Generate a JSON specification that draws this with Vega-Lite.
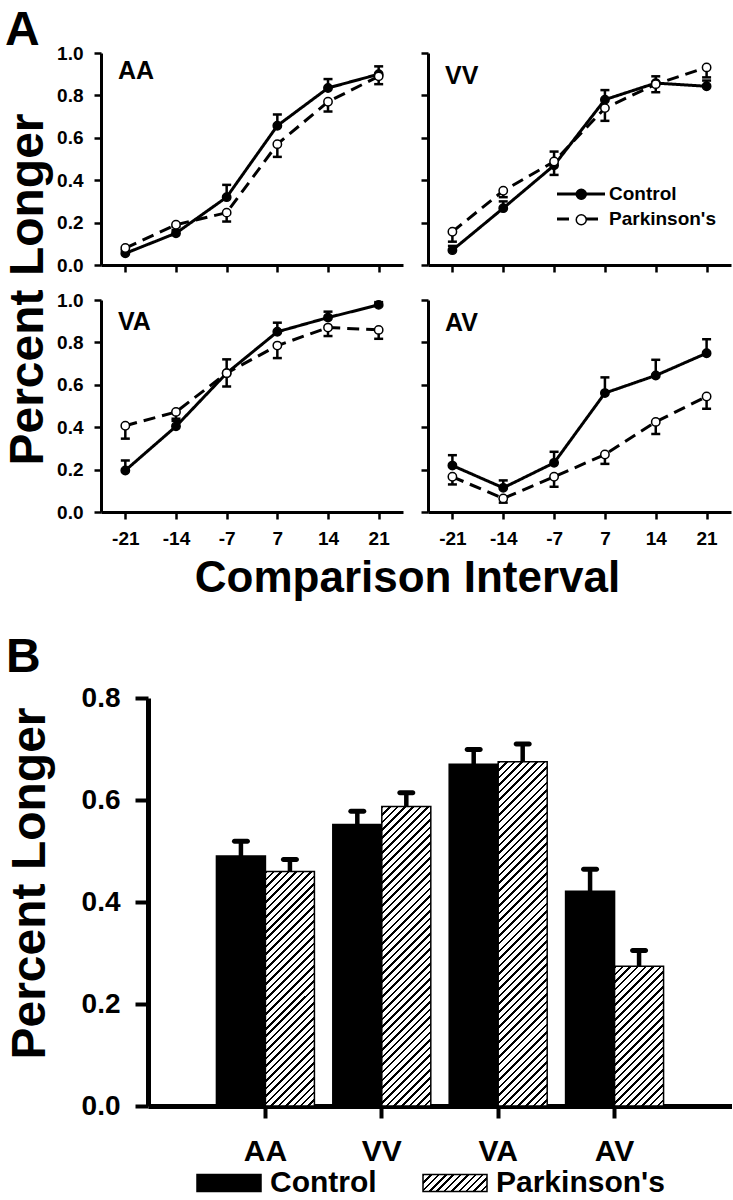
{
  "$schema": "https://vega.github.io/schema/vega-lite/v6.json",
  "padding": {"left": 4, "top": 7, "right": 0, "bottom": 0},
  "background": "white",
  "config": {
    "font": "Liberation Sans",
    "view": {"stroke": null},
    "axis": {"labelFont": "Liberation Sans", "labelFontWeight": "bold", "labelColor": "black", "titleFont": "Liberation Sans", "titleFontWeight": "bold", "titleColor": "black", "domainColor": "black", "tickColor": "black", "grid": false, "labelOverlap": false},
    "title": {"font": "Liberation Sans", "fontWeight": "bold", "color": "black"},
    "legend": {"labelFont": "Liberation Sans", "labelFontWeight": "bold", "labelColor": "black", "labelLimit": 400}
  },
  "datasets": {
    "curves": [
      {"panel": "AA", "group": "Control", "interval": -21, "mean": 0.055, "errEnd": 0.07},
      {"panel": "AA", "group": "Control", "interval": -14, "mean": 0.15, "errEnd": 0.165},
      {"panel": "AA", "group": "Control", "interval": -7, "mean": 0.32, "errEnd": 0.378},
      {"panel": "AA", "group": "Control", "interval": 7, "mean": 0.657, "errEnd": 0.71},
      {"panel": "AA", "group": "Control", "interval": 14, "mean": 0.835, "errEnd": 0.877},
      {"panel": "AA", "group": "Control", "interval": 21, "mean": 0.9, "errEnd": 0.937},
      {"panel": "AA", "group": "Parkinson's", "interval": -21, "mean": 0.08, "errEnd": 0.07},
      {"panel": "AA", "group": "Parkinson's", "interval": -14, "mean": 0.19, "errEnd": 0.18},
      {"panel": "AA", "group": "Parkinson's", "interval": -7, "mean": 0.247, "errEnd": 0.205},
      {"panel": "AA", "group": "Parkinson's", "interval": 7, "mean": 0.57, "errEnd": 0.51},
      {"panel": "AA", "group": "Parkinson's", "interval": 14, "mean": 0.77, "errEnd": 0.724},
      {"panel": "AA", "group": "Parkinson's", "interval": 21, "mean": 0.89, "errEnd": 0.853},
      {"panel": "VV", "group": "Control", "interval": -21, "mean": 0.07, "errEnd": 0.09},
      {"panel": "VV", "group": "Control", "interval": -14, "mean": 0.268, "errEnd": 0.3},
      {"panel": "VV", "group": "Control", "interval": -7, "mean": 0.47, "errEnd": 0.535},
      {"panel": "VV", "group": "Control", "interval": 7, "mean": 0.78, "errEnd": 0.825},
      {"panel": "VV", "group": "Control", "interval": 14, "mean": 0.858, "errEnd": 0.89},
      {"panel": "VV", "group": "Control", "interval": 21, "mean": 0.843, "errEnd": 0.87},
      {"panel": "VV", "group": "Parkinson's", "interval": -21, "mean": 0.157, "errEnd": 0.11},
      {"panel": "VV", "group": "Parkinson's", "interval": -14, "mean": 0.35, "errEnd": 0.32},
      {"panel": "VV", "group": "Parkinson's", "interval": -7, "mean": 0.488, "errEnd": 0.425},
      {"panel": "VV", "group": "Parkinson's", "interval": 7, "mean": 0.74, "errEnd": 0.68},
      {"panel": "VV", "group": "Parkinson's", "interval": 14, "mean": 0.853, "errEnd": 0.815},
      {"panel": "VV", "group": "Parkinson's", "interval": 21, "mean": 0.932, "errEnd": 0.885},
      {"panel": "VA", "group": "Control", "interval": -21, "mean": 0.196, "errEnd": 0.243},
      {"panel": "VA", "group": "Control", "interval": -14, "mean": 0.404, "errEnd": 0.43},
      {"panel": "VA", "group": "Control", "interval": -7, "mean": 0.655, "errEnd": 0.72},
      {"panel": "VA", "group": "Control", "interval": 7, "mean": 0.85, "errEnd": 0.893},
      {"panel": "VA", "group": "Control", "interval": 14, "mean": 0.917, "errEnd": 0.945},
      {"panel": "VA", "group": "Control", "interval": 21, "mean": 0.977, "errEnd": 0.99},
      {"panel": "VA", "group": "Parkinson's", "interval": -21, "mean": 0.407, "errEnd": 0.346},
      {"panel": "VA", "group": "Parkinson's", "interval": -14, "mean": 0.472, "errEnd": 0.44},
      {"panel": "VA", "group": "Parkinson's", "interval": -7, "mean": 0.655, "errEnd": 0.592},
      {"panel": "VA", "group": "Parkinson's", "interval": 7, "mean": 0.785, "errEnd": 0.726},
      {"panel": "VA", "group": "Parkinson's", "interval": 14, "mean": 0.87, "errEnd": 0.83},
      {"panel": "VA", "group": "Parkinson's", "interval": 21, "mean": 0.859, "errEnd": 0.817},
      {"panel": "AV", "group": "Control", "interval": -21, "mean": 0.219, "errEnd": 0.268},
      {"panel": "AV", "group": "Control", "interval": -14, "mean": 0.114, "errEnd": 0.149},
      {"panel": "AV", "group": "Control", "interval": -7, "mean": 0.232, "errEnd": 0.284},
      {"panel": "AV", "group": "Control", "interval": 7, "mean": 0.561, "errEnd": 0.635},
      {"panel": "AV", "group": "Control", "interval": 14, "mean": 0.644, "errEnd": 0.718},
      {"panel": "AV", "group": "Control", "interval": 21, "mean": 0.749, "errEnd": 0.815},
      {"panel": "AV", "group": "Parkinson's", "interval": -21, "mean": 0.166, "errEnd": 0.13},
      {"panel": "AV", "group": "Parkinson's", "interval": -14, "mean": 0.064, "errEnd": 0.044},
      {"panel": "AV", "group": "Parkinson's", "interval": -7, "mean": 0.166, "errEnd": 0.119},
      {"panel": "AV", "group": "Parkinson's", "interval": 7, "mean": 0.271, "errEnd": 0.227},
      {"panel": "AV", "group": "Parkinson's", "interval": 14, "mean": 0.425, "errEnd": 0.368},
      {"panel": "AV", "group": "Parkinson's", "interval": 21, "mean": 0.545, "errEnd": 0.487}
    ],
    "bars": [
      {"cond": "AA", "group": "Control", "mean": 0.49, "errEnd": 0.519},
      {"cond": "AA", "group": "Parkinson's", "mean": 0.46, "errEnd": 0.4835},
      {"cond": "VV", "group": "Control", "mean": 0.552, "errEnd": 0.578},
      {"cond": "VV", "group": "Parkinson's", "mean": 0.5875, "errEnd": 0.614},
      {"cond": "VA", "group": "Control", "mean": 0.67, "errEnd": 0.699},
      {"cond": "VA", "group": "Parkinson's", "mean": 0.675, "errEnd": 0.71},
      {"cond": "AV", "group": "Control", "mean": 0.421, "errEnd": 0.464},
      {"cond": "AV", "group": "Parkinson's", "mean": 0.274, "errEnd": 0.305}
    ]
  },
  "resolve": {"scale": {"fill": "independent", "strokeDash": "independent"}},
  "spacing": 34,
  "vconcat": [
    {
      "title": {"text": "A", "anchor": "start", "frame": "bounds", "fontSize": 48, "offset": -11},
      "columns": 2,
      "bounds": "flush",
      "spacing": {"row": 35, "column": 25},
      "resolve": {"scale": {"fill": "independent", "strokeDash": "independent"}},
      "concat": [
        {
          "width": 302, "height": 212,
          "data": {"name": "curves"},
          "transform": [{"filter": "datum.panel === 'AA'"}],
          "title": {"text": "AA", "anchor": "start", "frame": "group", "fontSize": 25, "dx": 17, "offset": -40.3},
          "encoding": {
            "x": {"field": "interval", "type": "ordinal", "scale": {"type": "point", "padding": 0.48}, "axis": {"labels": false, "title": null, "tickSize": 7, "tickWidth": 2.5, "domainWidth": 3}},
            "y": {"field": "mean", "type": "quantitative", "scale": {"domain": [0, 1]}, "axis": {"values": [0, 0.2, 0.4, 0.6, 0.8, 1], "format": ".1f", "labelFontSize": 19, "tickSize": 7, "tickWidth": 2.5, "domainWidth": 3, "labelPadding": 11, "title": "Percent Longer", "titleFontSize": 48, "titlePadding": 3.6, "titleY": 236}}
          },
          "layer": [
            {"mark": {"type": "rule", "color": "black", "strokeWidth": 2.5, "opacity": 1}, "encoding": {"y2": {"field": "errEnd"}}},
            {"mark": {"type": "tick", "color": "black", "thickness": 2.5, "size": 9, "opacity": 1}, "encoding": {"y": {"field": "errEnd", "type": "quantitative"}}},
            {"mark": {"type": "line", "color": "black", "strokeWidth": 3}, "encoding": {"strokeDash": {"field": "group", "type": "nominal", "scale": {"range": [[1, 0], [12, 7]]}, "legend": null}}},
            {"mark": {"type": "point", "filled": true, "opacity": 1, "stroke": "black", "strokeWidth": 1.5, "size": 70}, "encoding": {"fill": {"field": "group", "type": "nominal", "scale": {"domain": ["Control", "Parkinson's"], "range": ["black", "white"]}, "legend": null}}}
          ]
        },
        {
          "width": 303, "height": 212,
          "data": {"name": "curves"},
          "transform": [{"filter": "datum.panel === 'VV'"}],
          "title": {"text": "VV", "anchor": "start", "frame": "group", "fontSize": 25, "dx": 17, "offset": -37.5},
          "encoding": {
            "x": {"field": "interval", "type": "ordinal", "scale": {"type": "point", "padding": 0.48}, "axis": {"labels": false, "title": null, "tickSize": 7, "tickWidth": 2.5, "domainWidth": 3}},
            "y": {"field": "mean", "type": "quantitative", "scale": {"domain": [0, 1]}, "axis": {"values": [0, 0.2, 0.4, 0.6, 0.8, 1], "labels": false, "tickSize": 7, "tickWidth": 2.5, "domainWidth": 3, "title": null}}
          },
          "layer": [
            {"mark": {"type": "rule", "color": "black", "strokeWidth": 2.5, "opacity": 1}, "encoding": {"y2": {"field": "errEnd"}}},
            {"mark": {"type": "tick", "color": "black", "thickness": 2.5, "size": 9, "opacity": 1}, "encoding": {"y": {"field": "errEnd", "type": "quantitative"}}},
            {"mark": {"type": "line", "color": "black", "strokeWidth": 3}, "encoding": {"strokeDash": {"field": "group", "type": "nominal", "scale": {"range": [[1, 0], [12, 7]]}, "legend": {"orient": "none", "legendX": 141.5, "legendY": 129.5, "title": null, "symbolType": "M-2.4,0H-0.5M0.5,0H2.4", "symbolSize": 400, "symbolStrokeWidth": 3, "symbolStrokeColor": "black", "symbolFillColor": "transparent", "labelFontSize": 19, "labelOffset": 16.5, "rowPadding": 3}}}},
            {"mark": {"type": "point", "filled": true, "opacity": 1, "stroke": "black", "strokeWidth": 1.5, "size": 70}, "encoding": {"fill": {"field": "group", "type": "nominal", "scale": {"domain": ["Control", "Parkinson's"], "range": ["black", "white"]}, "legend": {"orient": "none", "legendX": 142.25, "legendY": 130.25, "title": null, "symbolType": "M0.5,0A0.5,0.5 0 1,1 -0.5,0A0.5,0.5 0 1,1 0.5,0Z", "symbolSize": 400, "symbolStrokeColor": "black", "symbolStrokeWidth": 1.5, "symbolOpacity": 1, "labelFontSize": 19, "labelOffset": 17.25, "labelOpacity": 0, "rowPadding": 4.5}}}}
          ]
        },
        {
          "width": 302, "height": 212,
          "data": {"name": "curves"},
          "transform": [{"filter": "datum.panel === 'VA'"}],
          "title": {"text": "VA", "anchor": "start", "frame": "group", "fontSize": 25, "dx": 17, "offset": -44.3},
          "encoding": {
            "x": {"field": "interval", "type": "ordinal", "scale": {"type": "point", "padding": 0.48}, "axis": {"labelFontSize": 19, "labelAngle": 0, "labelPadding": 10, "tickSize": 7, "tickWidth": 2.5, "domainWidth": 3, "title": "Comparison Interval", "titleFontSize": 44, "titleX": 306, "titlePadding": 8}},
            "y": {"field": "mean", "type": "quantitative", "scale": {"domain": [0, 1]}, "axis": {"values": [0, 0.2, 0.4, 0.6, 0.8, 1], "format": ".1f", "labelFontSize": 19, "tickSize": 7, "tickWidth": 2.5, "domainWidth": 3, "labelPadding": 11, "title": null}}
          },
          "layer": [
            {"mark": {"type": "rule", "color": "black", "strokeWidth": 2.5, "opacity": 1}, "encoding": {"y2": {"field": "errEnd"}}},
            {"mark": {"type": "tick", "color": "black", "thickness": 2.5, "size": 9, "opacity": 1}, "encoding": {"y": {"field": "errEnd", "type": "quantitative"}}},
            {"mark": {"type": "line", "color": "black", "strokeWidth": 3}, "encoding": {"strokeDash": {"field": "group", "type": "nominal", "scale": {"range": [[1, 0], [12, 7]]}, "legend": null}}},
            {"mark": {"type": "point", "filled": true, "opacity": 1, "stroke": "black", "strokeWidth": 1.5, "size": 70}, "encoding": {"fill": {"field": "group", "type": "nominal", "scale": {"domain": ["Control", "Parkinson's"], "range": ["black", "white"]}, "legend": null}}}
          ]
        },
        {
          "width": 303, "height": 212,
          "data": {"name": "curves"},
          "transform": [{"filter": "datum.panel === 'AV'"}],
          "title": {"text": "AV", "anchor": "start", "frame": "group", "fontSize": 25, "dx": 17, "offset": -37.5},
          "encoding": {
            "x": {"field": "interval", "type": "ordinal", "scale": {"type": "point", "padding": 0.48}, "axis": {"labelFontSize": 19, "labelAngle": 0, "labelPadding": 10, "tickSize": 7, "tickWidth": 2.5, "domainWidth": 3, "title": null}},
            "y": {"field": "mean", "type": "quantitative", "scale": {"domain": [0, 1]}, "axis": {"values": [0, 0.2, 0.4, 0.6, 0.8, 1], "labels": false, "tickSize": 7, "tickWidth": 2.5, "domainWidth": 3, "title": null}}
          },
          "layer": [
            {"mark": {"type": "rule", "color": "black", "strokeWidth": 2.5, "opacity": 1}, "encoding": {"y2": {"field": "errEnd"}}},
            {"mark": {"type": "tick", "color": "black", "thickness": 2.5, "size": 9, "opacity": 1}, "encoding": {"y": {"field": "errEnd", "type": "quantitative"}}},
            {"mark": {"type": "line", "color": "black", "strokeWidth": 3}, "encoding": {"strokeDash": {"field": "group", "type": "nominal", "scale": {"range": [[1, 0], [12, 7]]}, "legend": null}}},
            {"mark": {"type": "point", "filled": true, "opacity": 1, "stroke": "black", "strokeWidth": 1.5, "size": 70}, "encoding": {"fill": {"field": "group", "type": "nominal", "scale": {"domain": ["Control", "Parkinson's"], "range": ["black", "white"]}, "legend": null}}}
          ]
        }
      ]
    },
    {
      "width": 631, "height": 408,
      "data": {"name": "bars"},
      "title": {"text": "B", "anchor": "start", "frame": "bounds", "fontSize": 48, "offset": 2},
      "encoding": {
        "x": {"field": "cond", "type": "nominal", "sort": ["AA", "VV", "VA", "AV"], "scale": {"range": [47, 631], "paddingInner": 0.158, "paddingOuter": 0.588}, "axis": {"title": null, "labelAngle": 0, "labelFontSize": 30, "tickSize": 12, "tickWidth": 4, "domainWidth": 5, "labelPadding": 18}},
        "xOffset": {"field": "group", "type": "nominal", "sort": ["Control", "Parkinson's"]},
        "y": {"field": "mean", "type": "quantitative", "scale": {"domain": [0, 0.8]}, "axis": {"values": [0, 0.2, 0.4, 0.6, 0.8], "format": ".1f", "offset": -47, "labelFontSize": 28, "tickSize": 13, "tickWidth": 4, "domainWidth": 5, "labelPadding": 15, "title": "Percent Longer", "titleFontSize": 48, "titlePadding": 27, "titleY": 185}}
      },
      "layer": [
        {"mark": {"type": "bar", "stroke": "black", "strokeWidth": 1.5},
         "encoding": {
           "fill": {"field": "group", "type": "nominal",
             "scale": {"domain": ["Control", "Parkinson's"], "range": ["black", {"expr": "{gradient: 'linear', x1: 0, y1: 0, x2: 1.1822, y2: 0.314, stops: [{offset: 0, color: '#000'}, {offset: 0.0303, color: '#000'}, {offset: 0.0303, color: '#fff'}, {offset: 0.0909, color: '#fff'}, {offset: 0.0909, color: '#000'}, {offset: 0.1212, color: '#000'}, {offset: 0.1212, color: '#fff'}, {offset: 0.1818, color: '#fff'}, {offset: 0.1818, color: '#000'}, {offset: 0.2121, color: '#000'}, {offset: 0.2121, color: '#fff'}, {offset: 0.2727, color: '#fff'}, {offset: 0.2727, color: '#000'}, {offset: 0.303, color: '#000'}, {offset: 0.303, color: '#fff'}, {offset: 0.3636, color: '#fff'}, {offset: 0.3636, color: '#000'}, {offset: 0.3939, color: '#000'}, {offset: 0.3939, color: '#fff'}, {offset: 0.4545, color: '#fff'}, {offset: 0.4545, color: '#000'}, {offset: 0.4848, color: '#000'}, {offset: 0.4848, color: '#fff'}, {offset: 0.5455, color: '#fff'}, {offset: 0.5455, color: '#000'}, {offset: 0.5758, color: '#000'}, {offset: 0.5758, color: '#fff'}, {offset: 0.6364, color: '#fff'}, {offset: 0.6364, color: '#000'}, {offset: 0.6667, color: '#000'}, {offset: 0.6667, color: '#fff'}, {offset: 0.7273, color: '#fff'}, {offset: 0.7273, color: '#000'}, {offset: 0.7576, color: '#000'}, {offset: 0.7576, color: '#fff'}, {offset: 0.8182, color: '#fff'}, {offset: 0.8182, color: '#000'}, {offset: 0.8485, color: '#000'}, {offset: 0.8485, color: '#fff'}, {offset: 0.9091, color: '#fff'}, {offset: 0.9091, color: '#000'}, {offset: 0.9394, color: '#000'}, {offset: 0.9394, color: '#fff'}, {offset: 1, color: '#fff'}]}"}]},
             "legend": {"orient": "none", "direction": "horizontal", "legendX": 113, "legendY": 470, "title": null, "symbolType": "M-3.2,-0.85H3.2V0.85H-3.2Z", "symbolSize": 400, "symbolStrokeColor": "black", "symbolStrokeWidth": 1.5, "symbolOpacity": 1, "labelFontSize": 30, "labelOffset": 26, "columnPadding": 43},
             "condition": [
               {"test": "datum.group !== 'Control' && datum.cond === 'AA'", "value": {"gradient": "linear", "x1": 0, "y1": 0, "x2": 0.2419, "y2": 1.1583, "stops": [
                 {"offset": 0, "color": "#000"}, {"offset": 0.0088, "color": "#000"}, {"offset": 0.0088, "color": "#fff"}, {"offset": 0.0263, "color": "#fff"},
                 {"offset": 0.0263, "color": "#000"}, {"offset": 0.0351, "color": "#000"}, {"offset": 0.0351, "color": "#fff"}, {"offset": 0.0526, "color": "#fff"},
                 {"offset": 0.0526, "color": "#000"}, {"offset": 0.0614, "color": "#000"}, {"offset": 0.0614, "color": "#fff"}, {"offset": 0.0789, "color": "#fff"},
                 {"offset": 0.0789, "color": "#000"}, {"offset": 0.0877, "color": "#000"}, {"offset": 0.0877, "color": "#fff"}, {"offset": 0.1053, "color": "#fff"},
                 {"offset": 0.1053, "color": "#000"}, {"offset": 0.114, "color": "#000"}, {"offset": 0.114, "color": "#fff"}, {"offset": 0.1316, "color": "#fff"},
                 {"offset": 0.1316, "color": "#000"}, {"offset": 0.1404, "color": "#000"}, {"offset": 0.1404, "color": "#fff"}, {"offset": 0.1579, "color": "#fff"},
                 {"offset": 0.1579, "color": "#000"}, {"offset": 0.1667, "color": "#000"}, {"offset": 0.1667, "color": "#fff"}, {"offset": 0.1842, "color": "#fff"},
                 {"offset": 0.1842, "color": "#000"}, {"offset": 0.193, "color": "#000"}, {"offset": 0.193, "color": "#fff"}, {"offset": 0.2105, "color": "#fff"},
                 {"offset": 0.2105, "color": "#000"}, {"offset": 0.2193, "color": "#000"}, {"offset": 0.2193, "color": "#fff"}, {"offset": 0.2368, "color": "#fff"},
                 {"offset": 0.2368, "color": "#000"}, {"offset": 0.2456, "color": "#000"}, {"offset": 0.2456, "color": "#fff"}, {"offset": 0.2632, "color": "#fff"},
                 {"offset": 0.2632, "color": "#000"}, {"offset": 0.2719, "color": "#000"}, {"offset": 0.2719, "color": "#fff"}, {"offset": 0.2895, "color": "#fff"},
                 {"offset": 0.2895, "color": "#000"}, {"offset": 0.2982, "color": "#000"}, {"offset": 0.2982, "color": "#fff"}, {"offset": 0.3158, "color": "#fff"},
                 {"offset": 0.3158, "color": "#000"}, {"offset": 0.3246, "color": "#000"}, {"offset": 0.3246, "color": "#fff"}, {"offset": 0.3421, "color": "#fff"},
                 {"offset": 0.3421, "color": "#000"}, {"offset": 0.3509, "color": "#000"}, {"offset": 0.3509, "color": "#fff"}, {"offset": 0.3684, "color": "#fff"},
                 {"offset": 0.3684, "color": "#000"}, {"offset": 0.3772, "color": "#000"}, {"offset": 0.3772, "color": "#fff"}, {"offset": 0.3947, "color": "#fff"},
                 {"offset": 0.3947, "color": "#000"}, {"offset": 0.4035, "color": "#000"}, {"offset": 0.4035, "color": "#fff"}, {"offset": 0.4211, "color": "#fff"},
                 {"offset": 0.4211, "color": "#000"}, {"offset": 0.4298, "color": "#000"}, {"offset": 0.4298, "color": "#fff"}, {"offset": 0.4474, "color": "#fff"},
                 {"offset": 0.4474, "color": "#000"}, {"offset": 0.4561, "color": "#000"}, {"offset": 0.4561, "color": "#fff"}, {"offset": 0.4737, "color": "#fff"},
                 {"offset": 0.4737, "color": "#000"}, {"offset": 0.4825, "color": "#000"}, {"offset": 0.4825, "color": "#fff"}, {"offset": 0.5, "color": "#fff"},
                 {"offset": 0.5, "color": "#000"}, {"offset": 0.5088, "color": "#000"}, {"offset": 0.5088, "color": "#fff"}, {"offset": 0.5263, "color": "#fff"},
                 {"offset": 0.5263, "color": "#000"}, {"offset": 0.5351, "color": "#000"}, {"offset": 0.5351, "color": "#fff"}, {"offset": 0.5526, "color": "#fff"},
                 {"offset": 0.5526, "color": "#000"}, {"offset": 0.5614, "color": "#000"}, {"offset": 0.5614, "color": "#fff"}, {"offset": 0.5789, "color": "#fff"},
                 {"offset": 0.5789, "color": "#000"}, {"offset": 0.5877, "color": "#000"}, {"offset": 0.5877, "color": "#fff"}, {"offset": 0.6053, "color": "#fff"},
                 {"offset": 0.6053, "color": "#000"}, {"offset": 0.614, "color": "#000"}, {"offset": 0.614, "color": "#fff"}, {"offset": 0.6316, "color": "#fff"},
                 {"offset": 0.6316, "color": "#000"}, {"offset": 0.6404, "color": "#000"}, {"offset": 0.6404, "color": "#fff"}, {"offset": 0.6579, "color": "#fff"},
                 {"offset": 0.6579, "color": "#000"}, {"offset": 0.6667, "color": "#000"}, {"offset": 0.6667, "color": "#fff"}, {"offset": 0.6842, "color": "#fff"},
                 {"offset": 0.6842, "color": "#000"}, {"offset": 0.693, "color": "#000"}, {"offset": 0.693, "color": "#fff"}, {"offset": 0.7105, "color": "#fff"},
                 {"offset": 0.7105, "color": "#000"}, {"offset": 0.7193, "color": "#000"}, {"offset": 0.7193, "color": "#fff"}, {"offset": 0.7368, "color": "#fff"},
                 {"offset": 0.7368, "color": "#000"}, {"offset": 0.7456, "color": "#000"}, {"offset": 0.7456, "color": "#fff"}, {"offset": 0.7632, "color": "#fff"},
                 {"offset": 0.7632, "color": "#000"}, {"offset": 0.7719, "color": "#000"}, {"offset": 0.7719, "color": "#fff"}, {"offset": 0.7895, "color": "#fff"},
                 {"offset": 0.7895, "color": "#000"}, {"offset": 0.7982, "color": "#000"}, {"offset": 0.7982, "color": "#fff"}, {"offset": 0.8158, "color": "#fff"},
                 {"offset": 0.8158, "color": "#000"}, {"offset": 0.8246, "color": "#000"}, {"offset": 0.8246, "color": "#fff"}, {"offset": 0.8421, "color": "#fff"},
                 {"offset": 0.8421, "color": "#000"}, {"offset": 0.8509, "color": "#000"}, {"offset": 0.8509, "color": "#fff"}, {"offset": 0.8684, "color": "#fff"},
                 {"offset": 0.8684, "color": "#000"}, {"offset": 0.8772, "color": "#000"}, {"offset": 0.8772, "color": "#fff"}, {"offset": 0.8947, "color": "#fff"},
                 {"offset": 0.8947, "color": "#000"}, {"offset": 0.9035, "color": "#000"}, {"offset": 0.9035, "color": "#fff"}, {"offset": 0.9211, "color": "#fff"},
                 {"offset": 0.9211, "color": "#000"}, {"offset": 0.9298, "color": "#000"}, {"offset": 0.9298, "color": "#fff"}, {"offset": 0.9474, "color": "#fff"},
                 {"offset": 0.9474, "color": "#000"}, {"offset": 0.9561, "color": "#000"}, {"offset": 0.9561, "color": "#fff"}, {"offset": 0.9737, "color": "#fff"},
                 {"offset": 0.9737, "color": "#000"}, {"offset": 0.9825, "color": "#000"}, {"offset": 0.9825, "color": "#fff"}, {"offset": 1, "color": "#fff"}
               ]}},
               {"test": "datum.group !== 'Control' && datum.cond === 'VV'", "value": {"gradient": "linear", "x1": 0, "y1": 0, "x2": 0.1853, "y2": 1.1332, "stops": [
                 {"offset": 0, "color": "#000"}, {"offset": 0.0072, "color": "#000"}, {"offset": 0.0072, "color": "#fff"}, {"offset": 0.0217, "color": "#fff"},
                 {"offset": 0.0217, "color": "#000"}, {"offset": 0.029, "color": "#000"}, {"offset": 0.029, "color": "#fff"}, {"offset": 0.0435, "color": "#fff"},
                 {"offset": 0.0435, "color": "#000"}, {"offset": 0.0507, "color": "#000"}, {"offset": 0.0507, "color": "#fff"}, {"offset": 0.0652, "color": "#fff"},
                 {"offset": 0.0652, "color": "#000"}, {"offset": 0.0725, "color": "#000"}, {"offset": 0.0725, "color": "#fff"}, {"offset": 0.087, "color": "#fff"},
                 {"offset": 0.087, "color": "#000"}, {"offset": 0.0942, "color": "#000"}, {"offset": 0.0942, "color": "#fff"}, {"offset": 0.1087, "color": "#fff"},
                 {"offset": 0.1087, "color": "#000"}, {"offset": 0.1159, "color": "#000"}, {"offset": 0.1159, "color": "#fff"}, {"offset": 0.1304, "color": "#fff"},
                 {"offset": 0.1304, "color": "#000"}, {"offset": 0.1377, "color": "#000"}, {"offset": 0.1377, "color": "#fff"}, {"offset": 0.1522, "color": "#fff"},
                 {"offset": 0.1522, "color": "#000"}, {"offset": 0.1594, "color": "#000"}, {"offset": 0.1594, "color": "#fff"}, {"offset": 0.1739, "color": "#fff"},
                 {"offset": 0.1739, "color": "#000"}, {"offset": 0.1812, "color": "#000"}, {"offset": 0.1812, "color": "#fff"}, {"offset": 0.1957, "color": "#fff"},
                 {"offset": 0.1957, "color": "#000"}, {"offset": 0.2029, "color": "#000"}, {"offset": 0.2029, "color": "#fff"}, {"offset": 0.2174, "color": "#fff"},
                 {"offset": 0.2174, "color": "#000"}, {"offset": 0.2246, "color": "#000"}, {"offset": 0.2246, "color": "#fff"}, {"offset": 0.2391, "color": "#fff"},
                 {"offset": 0.2391, "color": "#000"}, {"offset": 0.2464, "color": "#000"}, {"offset": 0.2464, "color": "#fff"}, {"offset": 0.2609, "color": "#fff"},
                 {"offset": 0.2609, "color": "#000"}, {"offset": 0.2681, "color": "#000"}, {"offset": 0.2681, "color": "#fff"}, {"offset": 0.2826, "color": "#fff"},
                 {"offset": 0.2826, "color": "#000"}, {"offset": 0.2899, "color": "#000"}, {"offset": 0.2899, "color": "#fff"}, {"offset": 0.3043, "color": "#fff"},
                 {"offset": 0.3043, "color": "#000"}, {"offset": 0.3116, "color": "#000"}, {"offset": 0.3116, "color": "#fff"}, {"offset": 0.3261, "color": "#fff"},
                 {"offset": 0.3261, "color": "#000"}, {"offset": 0.3333, "color": "#000"}, {"offset": 0.3333, "color": "#fff"}, {"offset": 0.3478, "color": "#fff"},
                 {"offset": 0.3478, "color": "#000"}, {"offset": 0.3551, "color": "#000"}, {"offset": 0.3551, "color": "#fff"}, {"offset": 0.3696, "color": "#fff"},
                 {"offset": 0.3696, "color": "#000"}, {"offset": 0.3768, "color": "#000"}, {"offset": 0.3768, "color": "#fff"}, {"offset": 0.3913, "color": "#fff"},
                 {"offset": 0.3913, "color": "#000"}, {"offset": 0.3986, "color": "#000"}, {"offset": 0.3986, "color": "#fff"}, {"offset": 0.413, "color": "#fff"},
                 {"offset": 0.413, "color": "#000"}, {"offset": 0.4203, "color": "#000"}, {"offset": 0.4203, "color": "#fff"}, {"offset": 0.4348, "color": "#fff"},
                 {"offset": 0.4348, "color": "#000"}, {"offset": 0.442, "color": "#000"}, {"offset": 0.442, "color": "#fff"}, {"offset": 0.4565, "color": "#fff"},
                 {"offset": 0.4565, "color": "#000"}, {"offset": 0.4638, "color": "#000"}, {"offset": 0.4638, "color": "#fff"}, {"offset": 0.4783, "color": "#fff"},
                 {"offset": 0.4783, "color": "#000"}, {"offset": 0.4855, "color": "#000"}, {"offset": 0.4855, "color": "#fff"}, {"offset": 0.5, "color": "#fff"},
                 {"offset": 0.5, "color": "#000"}, {"offset": 0.5072, "color": "#000"}, {"offset": 0.5072, "color": "#fff"}, {"offset": 0.5217, "color": "#fff"},
                 {"offset": 0.5217, "color": "#000"}, {"offset": 0.529, "color": "#000"}, {"offset": 0.529, "color": "#fff"}, {"offset": 0.5435, "color": "#fff"},
                 {"offset": 0.5435, "color": "#000"}, {"offset": 0.5507, "color": "#000"}, {"offset": 0.5507, "color": "#fff"}, {"offset": 0.5652, "color": "#fff"},
                 {"offset": 0.5652, "color": "#000"}, {"offset": 0.5725, "color": "#000"}, {"offset": 0.5725, "color": "#fff"}, {"offset": 0.587, "color": "#fff"},
                 {"offset": 0.587, "color": "#000"}, {"offset": 0.5942, "color": "#000"}, {"offset": 0.5942, "color": "#fff"}, {"offset": 0.6087, "color": "#fff"},
                 {"offset": 0.6087, "color": "#000"}, {"offset": 0.6159, "color": "#000"}, {"offset": 0.6159, "color": "#fff"}, {"offset": 0.6304, "color": "#fff"},
                 {"offset": 0.6304, "color": "#000"}, {"offset": 0.6377, "color": "#000"}, {"offset": 0.6377, "color": "#fff"}, {"offset": 0.6522, "color": "#fff"},
                 {"offset": 0.6522, "color": "#000"}, {"offset": 0.6594, "color": "#000"}, {"offset": 0.6594, "color": "#fff"}, {"offset": 0.6739, "color": "#fff"},
                 {"offset": 0.6739, "color": "#000"}, {"offset": 0.6812, "color": "#000"}, {"offset": 0.6812, "color": "#fff"}, {"offset": 0.6957, "color": "#fff"},
                 {"offset": 0.6957, "color": "#000"}, {"offset": 0.7029, "color": "#000"}, {"offset": 0.7029, "color": "#fff"}, {"offset": 0.7174, "color": "#fff"},
                 {"offset": 0.7174, "color": "#000"}, {"offset": 0.7246, "color": "#000"}, {"offset": 0.7246, "color": "#fff"}, {"offset": 0.7391, "color": "#fff"},
                 {"offset": 0.7391, "color": "#000"}, {"offset": 0.7464, "color": "#000"}, {"offset": 0.7464, "color": "#fff"}, {"offset": 0.7609, "color": "#fff"},
                 {"offset": 0.7609, "color": "#000"}, {"offset": 0.7681, "color": "#000"}, {"offset": 0.7681, "color": "#fff"}, {"offset": 0.7826, "color": "#fff"},
                 {"offset": 0.7826, "color": "#000"}, {"offset": 0.7899, "color": "#000"}, {"offset": 0.7899, "color": "#fff"}, {"offset": 0.8043, "color": "#fff"},
                 {"offset": 0.8043, "color": "#000"}, {"offset": 0.8116, "color": "#000"}, {"offset": 0.8116, "color": "#fff"}, {"offset": 0.8261, "color": "#fff"},
                 {"offset": 0.8261, "color": "#000"}, {"offset": 0.8333, "color": "#000"}, {"offset": 0.8333, "color": "#fff"}, {"offset": 0.8478, "color": "#fff"},
                 {"offset": 0.8478, "color": "#000"}, {"offset": 0.8551, "color": "#000"}, {"offset": 0.8551, "color": "#fff"}, {"offset": 0.8696, "color": "#fff"},
                 {"offset": 0.8696, "color": "#000"}, {"offset": 0.8768, "color": "#000"}, {"offset": 0.8768, "color": "#fff"}, {"offset": 0.8913, "color": "#fff"},
                 {"offset": 0.8913, "color": "#000"}, {"offset": 0.8986, "color": "#000"}, {"offset": 0.8986, "color": "#fff"}, {"offset": 0.913, "color": "#fff"},
                 {"offset": 0.913, "color": "#000"}, {"offset": 0.9203, "color": "#000"}, {"offset": 0.9203, "color": "#fff"}, {"offset": 0.9348, "color": "#fff"},
                 {"offset": 0.9348, "color": "#000"}, {"offset": 0.942, "color": "#000"}, {"offset": 0.942, "color": "#fff"}, {"offset": 0.9565, "color": "#fff"},
                 {"offset": 0.9565, "color": "#000"}, {"offset": 0.9638, "color": "#000"}, {"offset": 0.9638, "color": "#fff"}, {"offset": 0.9783, "color": "#fff"},
                 {"offset": 0.9783, "color": "#000"}, {"offset": 0.9855, "color": "#000"}, {"offset": 0.9855, "color": "#fff"}, {"offset": 1, "color": "#fff"}
               ]}},
               {"test": "datum.group !== 'Control' && datum.cond === 'VA'", "value": {"gradient": "linear", "x1": 0, "y1": 0, "x2": 0.1594, "y2": 1.1197, "stops": [
                 {"offset": 0, "color": "#000"}, {"offset": 0.0064, "color": "#000"}, {"offset": 0.0064, "color": "#fff"}, {"offset": 0.0192, "color": "#fff"},
                 {"offset": 0.0192, "color": "#000"}, {"offset": 0.0256, "color": "#000"}, {"offset": 0.0256, "color": "#fff"}, {"offset": 0.0385, "color": "#fff"},
                 {"offset": 0.0385, "color": "#000"}, {"offset": 0.0449, "color": "#000"}, {"offset": 0.0449, "color": "#fff"}, {"offset": 0.0577, "color": "#fff"},
                 {"offset": 0.0577, "color": "#000"}, {"offset": 0.0641, "color": "#000"}, {"offset": 0.0641, "color": "#fff"}, {"offset": 0.0769, "color": "#fff"},
                 {"offset": 0.0769, "color": "#000"}, {"offset": 0.0833, "color": "#000"}, {"offset": 0.0833, "color": "#fff"}, {"offset": 0.0962, "color": "#fff"},
                 {"offset": 0.0962, "color": "#000"}, {"offset": 0.1026, "color": "#000"}, {"offset": 0.1026, "color": "#fff"}, {"offset": 0.1154, "color": "#fff"},
                 {"offset": 0.1154, "color": "#000"}, {"offset": 0.1218, "color": "#000"}, {"offset": 0.1218, "color": "#fff"}, {"offset": 0.1346, "color": "#fff"},
                 {"offset": 0.1346, "color": "#000"}, {"offset": 0.141, "color": "#000"}, {"offset": 0.141, "color": "#fff"}, {"offset": 0.1538, "color": "#fff"},
                 {"offset": 0.1538, "color": "#000"}, {"offset": 0.1603, "color": "#000"}, {"offset": 0.1603, "color": "#fff"}, {"offset": 0.1731, "color": "#fff"},
                 {"offset": 0.1731, "color": "#000"}, {"offset": 0.1795, "color": "#000"}, {"offset": 0.1795, "color": "#fff"}, {"offset": 0.1923, "color": "#fff"},
                 {"offset": 0.1923, "color": "#000"}, {"offset": 0.1987, "color": "#000"}, {"offset": 0.1987, "color": "#fff"}, {"offset": 0.2115, "color": "#fff"},
                 {"offset": 0.2115, "color": "#000"}, {"offset": 0.2179, "color": "#000"}, {"offset": 0.2179, "color": "#fff"}, {"offset": 0.2308, "color": "#fff"},
                 {"offset": 0.2308, "color": "#000"}, {"offset": 0.2372, "color": "#000"}, {"offset": 0.2372, "color": "#fff"}, {"offset": 0.25, "color": "#fff"},
                 {"offset": 0.25, "color": "#000"}, {"offset": 0.2564, "color": "#000"}, {"offset": 0.2564, "color": "#fff"}, {"offset": 0.2692, "color": "#fff"},
                 {"offset": 0.2692, "color": "#000"}, {"offset": 0.2756, "color": "#000"}, {"offset": 0.2756, "color": "#fff"}, {"offset": 0.2885, "color": "#fff"},
                 {"offset": 0.2885, "color": "#000"}, {"offset": 0.2949, "color": "#000"}, {"offset": 0.2949, "color": "#fff"}, {"offset": 0.3077, "color": "#fff"},
                 {"offset": 0.3077, "color": "#000"}, {"offset": 0.3141, "color": "#000"}, {"offset": 0.3141, "color": "#fff"}, {"offset": 0.3269, "color": "#fff"},
                 {"offset": 0.3269, "color": "#000"}, {"offset": 0.3333, "color": "#000"}, {"offset": 0.3333, "color": "#fff"}, {"offset": 0.3462, "color": "#fff"},
                 {"offset": 0.3462, "color": "#000"}, {"offset": 0.3526, "color": "#000"}, {"offset": 0.3526, "color": "#fff"}, {"offset": 0.3654, "color": "#fff"},
                 {"offset": 0.3654, "color": "#000"}, {"offset": 0.3718, "color": "#000"}, {"offset": 0.3718, "color": "#fff"}, {"offset": 0.3846, "color": "#fff"},
                 {"offset": 0.3846, "color": "#000"}, {"offset": 0.391, "color": "#000"}, {"offset": 0.391, "color": "#fff"}, {"offset": 0.4038, "color": "#fff"},
                 {"offset": 0.4038, "color": "#000"}, {"offset": 0.4103, "color": "#000"}, {"offset": 0.4103, "color": "#fff"}, {"offset": 0.4231, "color": "#fff"},
                 {"offset": 0.4231, "color": "#000"}, {"offset": 0.4295, "color": "#000"}, {"offset": 0.4295, "color": "#fff"}, {"offset": 0.4423, "color": "#fff"},
                 {"offset": 0.4423, "color": "#000"}, {"offset": 0.4487, "color": "#000"}, {"offset": 0.4487, "color": "#fff"}, {"offset": 0.4615, "color": "#fff"},
                 {"offset": 0.4615, "color": "#000"}, {"offset": 0.4679, "color": "#000"}, {"offset": 0.4679, "color": "#fff"}, {"offset": 0.4808, "color": "#fff"},
                 {"offset": 0.4808, "color": "#000"}, {"offset": 0.4872, "color": "#000"}, {"offset": 0.4872, "color": "#fff"}, {"offset": 0.5, "color": "#fff"},
                 {"offset": 0.5, "color": "#000"}, {"offset": 0.5064, "color": "#000"}, {"offset": 0.5064, "color": "#fff"}, {"offset": 0.5192, "color": "#fff"},
                 {"offset": 0.5192, "color": "#000"}, {"offset": 0.5256, "color": "#000"}, {"offset": 0.5256, "color": "#fff"}, {"offset": 0.5385, "color": "#fff"},
                 {"offset": 0.5385, "color": "#000"}, {"offset": 0.5449, "color": "#000"}, {"offset": 0.5449, "color": "#fff"}, {"offset": 0.5577, "color": "#fff"},
                 {"offset": 0.5577, "color": "#000"}, {"offset": 0.5641, "color": "#000"}, {"offset": 0.5641, "color": "#fff"}, {"offset": 0.5769, "color": "#fff"},
                 {"offset": 0.5769, "color": "#000"}, {"offset": 0.5833, "color": "#000"}, {"offset": 0.5833, "color": "#fff"}, {"offset": 0.5962, "color": "#fff"},
                 {"offset": 0.5962, "color": "#000"}, {"offset": 0.6026, "color": "#000"}, {"offset": 0.6026, "color": "#fff"}, {"offset": 0.6154, "color": "#fff"},
                 {"offset": 0.6154, "color": "#000"}, {"offset": 0.6218, "color": "#000"}, {"offset": 0.6218, "color": "#fff"}, {"offset": 0.6346, "color": "#fff"},
                 {"offset": 0.6346, "color": "#000"}, {"offset": 0.641, "color": "#000"}, {"offset": 0.641, "color": "#fff"}, {"offset": 0.6538, "color": "#fff"},
                 {"offset": 0.6538, "color": "#000"}, {"offset": 0.6603, "color": "#000"}, {"offset": 0.6603, "color": "#fff"}, {"offset": 0.6731, "color": "#fff"},
                 {"offset": 0.6731, "color": "#000"}, {"offset": 0.6795, "color": "#000"}, {"offset": 0.6795, "color": "#fff"}, {"offset": 0.6923, "color": "#fff"},
                 {"offset": 0.6923, "color": "#000"}, {"offset": 0.6987, "color": "#000"}, {"offset": 0.6987, "color": "#fff"}, {"offset": 0.7115, "color": "#fff"},
                 {"offset": 0.7115, "color": "#000"}, {"offset": 0.7179, "color": "#000"}, {"offset": 0.7179, "color": "#fff"}, {"offset": 0.7308, "color": "#fff"},
                 {"offset": 0.7308, "color": "#000"}, {"offset": 0.7372, "color": "#000"}, {"offset": 0.7372, "color": "#fff"}, {"offset": 0.75, "color": "#fff"},
                 {"offset": 0.75, "color": "#000"}, {"offset": 0.7564, "color": "#000"}, {"offset": 0.7564, "color": "#fff"}, {"offset": 0.7692, "color": "#fff"},
                 {"offset": 0.7692, "color": "#000"}, {"offset": 0.7756, "color": "#000"}, {"offset": 0.7756, "color": "#fff"}, {"offset": 0.7885, "color": "#fff"},
                 {"offset": 0.7885, "color": "#000"}, {"offset": 0.7949, "color": "#000"}, {"offset": 0.7949, "color": "#fff"}, {"offset": 0.8077, "color": "#fff"},
                 {"offset": 0.8077, "color": "#000"}, {"offset": 0.8141, "color": "#000"}, {"offset": 0.8141, "color": "#fff"}, {"offset": 0.8269, "color": "#fff"},
                 {"offset": 0.8269, "color": "#000"}, {"offset": 0.8333, "color": "#000"}, {"offset": 0.8333, "color": "#fff"}, {"offset": 0.8462, "color": "#fff"},
                 {"offset": 0.8462, "color": "#000"}, {"offset": 0.8526, "color": "#000"}, {"offset": 0.8526, "color": "#fff"}, {"offset": 0.8654, "color": "#fff"},
                 {"offset": 0.8654, "color": "#000"}, {"offset": 0.8718, "color": "#000"}, {"offset": 0.8718, "color": "#fff"}, {"offset": 0.8846, "color": "#fff"},
                 {"offset": 0.8846, "color": "#000"}, {"offset": 0.891, "color": "#000"}, {"offset": 0.891, "color": "#fff"}, {"offset": 0.9038, "color": "#fff"},
                 {"offset": 0.9038, "color": "#000"}, {"offset": 0.9103, "color": "#000"}, {"offset": 0.9103, "color": "#fff"}, {"offset": 0.9231, "color": "#fff"},
                 {"offset": 0.9231, "color": "#000"}, {"offset": 0.9295, "color": "#000"}, {"offset": 0.9295, "color": "#fff"}, {"offset": 0.9423, "color": "#fff"},
                 {"offset": 0.9423, "color": "#000"}, {"offset": 0.9487, "color": "#000"}, {"offset": 0.9487, "color": "#fff"}, {"offset": 0.9615, "color": "#fff"},
                 {"offset": 0.9615, "color": "#000"}, {"offset": 0.9679, "color": "#000"}, {"offset": 0.9679, "color": "#fff"}, {"offset": 0.9808, "color": "#fff"},
                 {"offset": 0.9808, "color": "#000"}, {"offset": 0.9872, "color": "#000"}, {"offset": 0.9872, "color": "#fff"}, {"offset": 1, "color": "#fff"}
               ]}},
               {"test": "datum.group !== 'Control' && datum.cond === 'AV'", "value": {"gradient": "linear", "x1": 0, "y1": 0, "x2": 0.4218, "y2": 1.2028, "stops": [
                 {"offset": 0, "color": "#000"}, {"offset": 0.0133, "color": "#000"}, {"offset": 0.0133, "color": "#fff"}, {"offset": 0.04, "color": "#fff"},
                 {"offset": 0.04, "color": "#000"}, {"offset": 0.0533, "color": "#000"}, {"offset": 0.0533, "color": "#fff"}, {"offset": 0.08, "color": "#fff"},
                 {"offset": 0.08, "color": "#000"}, {"offset": 0.0933, "color": "#000"}, {"offset": 0.0933, "color": "#fff"}, {"offset": 0.12, "color": "#fff"},
                 {"offset": 0.12, "color": "#000"}, {"offset": 0.1333, "color": "#000"}, {"offset": 0.1333, "color": "#fff"}, {"offset": 0.16, "color": "#fff"},
                 {"offset": 0.16, "color": "#000"}, {"offset": 0.1733, "color": "#000"}, {"offset": 0.1733, "color": "#fff"}, {"offset": 0.2, "color": "#fff"},
                 {"offset": 0.2, "color": "#000"}, {"offset": 0.2133, "color": "#000"}, {"offset": 0.2133, "color": "#fff"}, {"offset": 0.24, "color": "#fff"},
                 {"offset": 0.24, "color": "#000"}, {"offset": 0.2533, "color": "#000"}, {"offset": 0.2533, "color": "#fff"}, {"offset": 0.28, "color": "#fff"},
                 {"offset": 0.28, "color": "#000"}, {"offset": 0.2933, "color": "#000"}, {"offset": 0.2933, "color": "#fff"}, {"offset": 0.32, "color": "#fff"},
                 {"offset": 0.32, "color": "#000"}, {"offset": 0.3333, "color": "#000"}, {"offset": 0.3333, "color": "#fff"}, {"offset": 0.36, "color": "#fff"},
                 {"offset": 0.36, "color": "#000"}, {"offset": 0.3733, "color": "#000"}, {"offset": 0.3733, "color": "#fff"}, {"offset": 0.4, "color": "#fff"},
                 {"offset": 0.4, "color": "#000"}, {"offset": 0.4133, "color": "#000"}, {"offset": 0.4133, "color": "#fff"}, {"offset": 0.44, "color": "#fff"},
                 {"offset": 0.44, "color": "#000"}, {"offset": 0.4533, "color": "#000"}, {"offset": 0.4533, "color": "#fff"}, {"offset": 0.48, "color": "#fff"},
                 {"offset": 0.48, "color": "#000"}, {"offset": 0.4933, "color": "#000"}, {"offset": 0.4933, "color": "#fff"}, {"offset": 0.52, "color": "#fff"},
                 {"offset": 0.52, "color": "#000"}, {"offset": 0.5333, "color": "#000"}, {"offset": 0.5333, "color": "#fff"}, {"offset": 0.56, "color": "#fff"},
                 {"offset": 0.56, "color": "#000"}, {"offset": 0.5733, "color": "#000"}, {"offset": 0.5733, "color": "#fff"}, {"offset": 0.6, "color": "#fff"},
                 {"offset": 0.6, "color": "#000"}, {"offset": 0.6133, "color": "#000"}, {"offset": 0.6133, "color": "#fff"}, {"offset": 0.64, "color": "#fff"},
                 {"offset": 0.64, "color": "#000"}, {"offset": 0.6533, "color": "#000"}, {"offset": 0.6533, "color": "#fff"}, {"offset": 0.68, "color": "#fff"},
                 {"offset": 0.68, "color": "#000"}, {"offset": 0.6933, "color": "#000"}, {"offset": 0.6933, "color": "#fff"}, {"offset": 0.72, "color": "#fff"},
                 {"offset": 0.72, "color": "#000"}, {"offset": 0.7333, "color": "#000"}, {"offset": 0.7333, "color": "#fff"}, {"offset": 0.76, "color": "#fff"},
                 {"offset": 0.76, "color": "#000"}, {"offset": 0.7733, "color": "#000"}, {"offset": 0.7733, "color": "#fff"}, {"offset": 0.8, "color": "#fff"},
                 {"offset": 0.8, "color": "#000"}, {"offset": 0.8133, "color": "#000"}, {"offset": 0.8133, "color": "#fff"}, {"offset": 0.84, "color": "#fff"},
                 {"offset": 0.84, "color": "#000"}, {"offset": 0.8533, "color": "#000"}, {"offset": 0.8533, "color": "#fff"}, {"offset": 0.88, "color": "#fff"},
                 {"offset": 0.88, "color": "#000"}, {"offset": 0.8933, "color": "#000"}, {"offset": 0.8933, "color": "#fff"}, {"offset": 0.92, "color": "#fff"},
                 {"offset": 0.92, "color": "#000"}, {"offset": 0.9333, "color": "#000"}, {"offset": 0.9333, "color": "#fff"}, {"offset": 0.96, "color": "#fff"},
                 {"offset": 0.96, "color": "#000"}, {"offset": 0.9733, "color": "#000"}, {"offset": 0.9733, "color": "#fff"}, {"offset": 1, "color": "#fff"}
               ]}}
             ]
           }
         }},
        {"mark": {"type": "rule", "color": "black", "strokeWidth": 4.5, "opacity": 1}, "encoding": {"y2": {"field": "errEnd"}}},
        {"mark": {"type": "tick", "color": "black", "thickness": 5, "size": 18, "cornerRadius": 2.5, "opacity": 1}, "encoding": {"y": {"field": "errEnd", "type": "quantitative"}}}
      ]
    }
  ]
}
